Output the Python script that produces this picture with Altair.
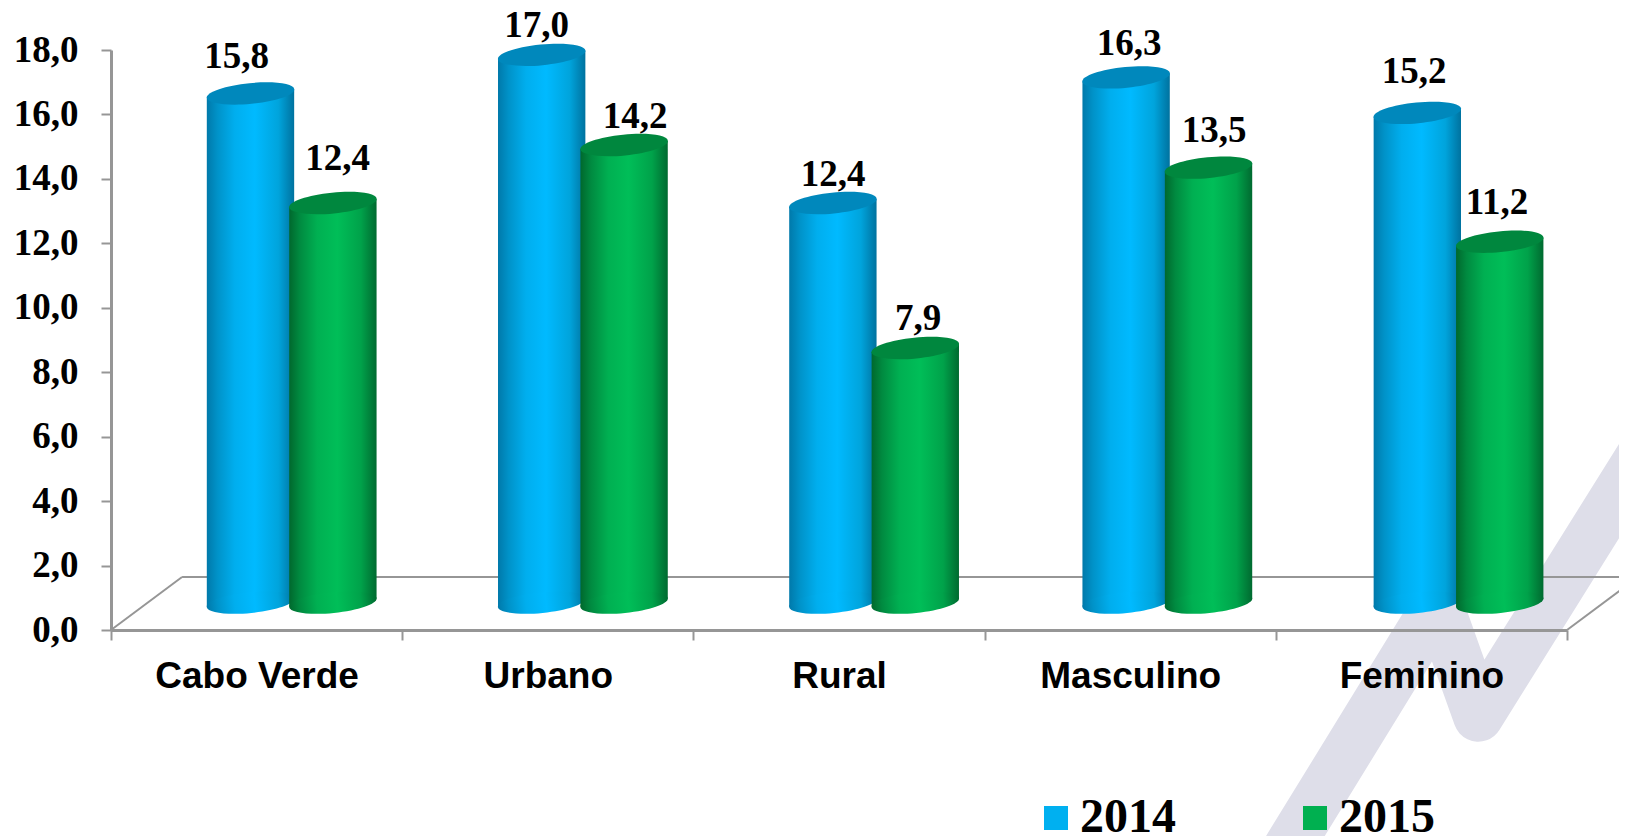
import altair as alt
import pandas as pd

# ---- chart values ----
CATEGORIES = ["Cabo Verde", "Urbano", "Rural", "Masculino", "Feminino"]
YEARS = ["2014", "2015"]
VALUES_2014 = [15.8, 17.0, 12.4, 16.3, 15.2]
VALUES_2015 = [12.4, 14.2, 7.9, 13.5, 11.2]
Y_TICKS = [0, 2, 4, 6, 8, 10, 12, 14, 16, 18]

# ---- layout (chart units: x = category slots, y = axis value) ----
W, H = 1456, 580
PX_X, PX_Y = W / 5, H / 18
BAR_W = 0.30
BAR_CENTRE = {"2014": 0.479, "2015": 0.762}
SLOT_NUDGE = [0, 0, 0, 0.007, 0.007]
BAR_LIFT = 0.85          # the cylinders stand 0.85 axis units up the 3D floor
TILT_Y = 4 / PX_Y        # half the end-to-end slant of a cylinder end
FLOOR_DX, FLOOR_DY = 0.244, 1.645

# label anchors as page pixels in the reference (centre x, baseline y)
LABEL_PX_2014 = [(236.5, 68), (536.5, 37), (833, 186), (1129, 55), (1414, 83)]
LABEL_PX_2015 = [(337.5, 170), (635, 128), (918, 330), (1214, 142), (1497, 214)]

WATERMARK_X = [4.003, 4.557, 4.695, 5.457]
WATERMARK_Y = [-7.34, 0.81, -2.69, 8.34]

XS = alt.Scale(domain=[0, 5], nice=False, zero=False)
YS = alt.Scale(domain=[0, 18], nice=False, zero=False)
Y_AXIS = alt.Axis(values=Y_TICKS, grid=False, tickSize=10, tickColor="#969696", tickWidth=2,
                  domainColor="#969696", domainWidth=3, labelFont="Liberation Serif", labelFontWeight="bold",
                  labelFontSize=37, labelColor="#000000", labelPadding=23,
                  labelExpr="replace(format(datum.value,'.1f'),'.',',')", zindex=1)

def X(field, axis=None):
    return alt.X(field, type="quantitative", scale=XS, title=None, axis=axis)

def Y(field):
    return alt.Y(field, type="quantitative", scale=YS, title=None, axis=Y_AXIS)

def grad(stops):
    return alt.LinearGradient(
        gradient="linear", x1=0, x2=1, y1=0, y2=0,
        stops=[alt.GradientStop(offset=o, color=c) for o, c in stops],
    )

BODY = {
    "2014": grad([(0, "#0079AA"), (0.12, "#0092C8"), (0.32, "#00AEEE"), (0.55, "#00BAFF"),
                  (0.82, "#00A4DC"), (1, "#00729F")]),
    "2015": grad([(0, "#00682D"), (0.12, "#008A40"), (0.32, "#00B052"), (0.55, "#00BE58"),
                  (0.82, "#00A24A"), (1, "#006A30")]),
}
TOP = {"2014": "#0088BC", "2015": "#00873E"}
LEGEND = {"2014": "#00B0F0", "2015": "#00B050"}

VALUES = {"2014": VALUES_2014, "2015": VALUES_2015}
LABEL_PX = {"2014": LABEL_PX_2014, "2015": LABEL_PX_2015}

rows = []
for yr in YEARS:
    for i, (c, v) in enumerate(zip(CATEGORIES, VALUES[yr])):
        (px, py) = LABEL_PX[yr][i]
        rows.append(dict(category=c, year=yr, value=v, cx=i + BAR_CENTRE[yr] + SLOT_NUDGE[i],
                         top=v + BAR_LIFT, base=BAR_LIFT,
                         text=f"{v:.1f}".replace(".", ","),
                         lx=(px - 111) / PX_X, ly=(630 - py) / PX_Y))
df = pd.DataFrame(rows)

layers = []

# watermark
wm = pd.DataFrame({"x": WATERMARK_X, "y": WATERMARK_Y, "o": range(4)})
layers.append(
    alt.Chart(wm).mark_line(color="#DEDEE9", strokeWidth=50, strokeJoin="round", strokeCap="butt", clip=False)
    .encode(X("x", alt.Axis(values=list(range(6)), labels=False, ticks=True, tickSize=10, tickColor="#969696",
                            tickWidth=2, domainColor="#969696", domainWidth=3, grid=False, zindex=1)),
            Y("y"),
            order="o:Q")
)

# 3D floor outline
floor = pd.DataFrame({
    "x": [0, FLOOR_DX, FLOOR_DX, 5 + FLOOR_DX, 5, 5 + FLOOR_DX],
    "y": [0, FLOOR_DY, FLOOR_DY, FLOOR_DY, 0, FLOOR_DY],
    "seg": ["l", "l", "b", "b", "r", "r"],
})
layers.append(
    alt.Chart(floor).mark_line(color="#969696", strokeWidth=2, clip=False)
    .encode(X("x"), Y("y"), detail="seg:N")
)

# cylinders
ELLIPSE = "M-1,0A1,0.236,0,1,1,1,0A1,0.236,0,1,1,-1,0Z"
for yr in YEARS:
    d = df[df.year == yr]
    body = []
    for _, r in d.iterrows():
        body.append(dict(category=r["category"], x=r["cx"] - BAR_W / 2, y=r["top"] - TILT_Y, y2=r["base"] - TILT_Y))
        body.append(dict(category=r["category"], x=r["cx"] + BAR_W / 2, y=r["top"] + TILT_Y, y2=r["base"] + TILT_Y))
    body = pd.DataFrame(body)
    layers.append(
        alt.Chart(body).mark_area(fill=BODY[yr], line=False, clip=False)
        .encode(X("x"), alt.Y("y", type="quantitative", scale=YS, title=None, axis=Y_AXIS, stack=None),
                y2="y2:Q", detail="category:N")
    )
    layers.append(
        alt.Chart(d).mark_point(shape=ELLIPSE, size=7744, angle=354.4, filled=True, fill=BODY[yr],
                                opacity=1, strokeWidth=0, clip=False)
        .encode(X("cx"), Y("base"))
    )
    layers.append(
        alt.Chart(d).mark_point(shape=ELLIPSE, size=7744, angle=354.4, filled=True, fill=TOP[yr],
                                opacity=1, strokeWidth=0, clip=False)
        .encode(X("cx"), Y("top"))
    )

# value labels
layers.append(
    alt.Chart(df).mark_text(font="Liberation Serif", fontWeight="bold", fontSize=37, color="#000000",
                            baseline="alphabetic", align="center", clip=False)
    .encode(X("lx"), Y("ly"), text="text:N")
)

# category axis and legend carrier
layers.append(
    alt.Chart(df).mark_square(opacity=0, size=1)
    .encode(
        alt.X("category:N", sort=CATEGORIES, title=None,
              scale=alt.Scale(domain=CATEGORIES, paddingInner=0, paddingOuter=0),
              axis=alt.Axis(orient="bottom", ticks=False, domain=False, labelAngle=0, labelFont="Liberation Sans",
                            labelFontWeight="bold", labelFontSize=37, labelColor="#000000", labelLimit=500,
                            labelPadding=57, labelBaseline="alphabetic", grid=False, zindex=1)),
        Y("base"),
        alt.Color("year:N", scale=alt.Scale(domain=YEARS, range=[LEGEND[y] for y in YEARS]),
                  legend=alt.Legend(orient="none", legendX=921, legendY=744, direction="horizontal",
                                    columns=2, columnPadding=115, title=None, symbolType="square",
                                    symbolSize=576, symbolOpacity=1, symbolStrokeWidth=0,
                                    labelFont="Liberation Serif", labelFontWeight="bold", labelFontSize=48,
                                    labelColor="#000000", labelOffset=0, padding=0, labelLimit=300)),
    )
)

chart = (
    alt.layer(*layers)
    .resolve_scale(x="independent")
    .properties(width=W, height=H, background="#FFFFFF",
                autosize=alt.AutoSizeParams(type="none"),
                padding={"left": 103, "top": 42, "right": 52, "bottom": 206})
    .configure_view(stroke=None)
)
chart.save("out.html", embed_options={"renderer": "svg", "actions": False})
